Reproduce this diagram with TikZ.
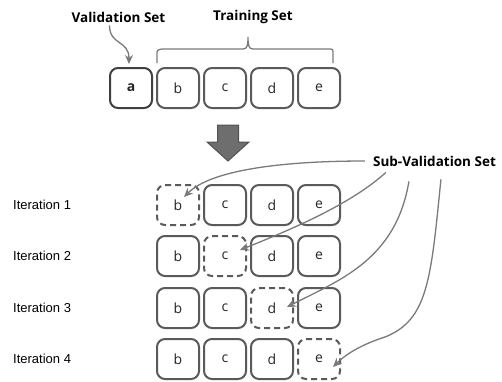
\documentclass[tikz,border=0pt]{standalone}
\usepackage{fontspec}
\setmainfont{Open Sans}
\newfontfamily\arialfont{Liberation Sans}
\usetikzlibrary{arrows.meta,calc}
\definecolor{boxgray}{HTML}{5A5A5A}
\definecolor{linegray}{HTML}{7A7A7A}
\definecolor{arrowfill}{HTML}{6E6E6E}
\definecolor{arrowedge}{HTML}{525252}

\begin{document}
\begin{tikzpicture}[x=1pt, y=-1pt,
  fold/.style={draw=boxgray, line width=2pt, rounded corners=8pt, minimum width=42pt, minimum height=40pt, inner sep=0pt, text=black!85, font=\fontsize{14}{16}\selectfont},
  subfold/.style={fold, dash pattern=on 6pt off 4pt},
  setlabel/.style={inner sep=0pt, font=\bfseries\fontsize{13.5}{16}\selectfont},
  iterlabel/.style={anchor=west, inner sep=0pt, font=\arialfont\fontsize{13}{15}\selectfont},
  pointer/.style={draw=linegray, line width=1.3pt, -{Stealth[length=9pt, width=8pt]}}
]
  \useasboundingbox (0,0) rectangle (502,381);

  % Full data set
  \node[fold, draw=black!75, font=\bfseries\fontsize{14}{16}\selectfont] (a0) at (131,88) {a};
  \foreach \l [count=\i] in {b,c,d,e}
    \node[fold] (\l0) at (131+47*\i, 88) {\l};

  % Labels on top
  \node[setlabel] (val) at (118.5,17) {Validation Set};
  \node[setlabel] (train) at (253,17) {Training Set};

  % Brace over the training folds
  \draw[linegray, line width=1.3pt] (157,63) -- (157,55) .. controls (157,50) .. (162,49) -- (243,49)
    .. controls (247,49) and (248,46) .. (248,37) .. controls (248,46) and (249,49) .. (253,49)
    -- (328,49) .. controls (333,49) .. (333,54) -- (333,63);

  % Validation pointer
  \draw[pointer] ([xshift=-9pt, yshift=-3pt]val.south) .. controls +(0,20) and +(0,-24) .. ([xshift=-2pt, yshift=3pt]a0.north);

  % Big down arrow
  \filldraw[fill=arrowfill, draw=arrowedge, line width=1pt] (217.5,125) -- (238.5,125) -- (238.5,142) -- (249,142)
    -- (228,161) -- (207,142) -- (217.5,142) -- cycle;

  % Iterations
  \foreach \r/\y in {1/205, 2/256, 3/308, 4/359} {
    \node[iterlabel] (it\r) at (13,\y) {Iteration \r};
    \foreach \l [count=\i] in {b,c,d,e} {
      \ifnum\i=\r
        \node[subfold] (\l\r) at (131+47*\i, \y) {\l};
      \else
        \node[fold] (\l\r) at (131+47*\i, \y) {\l};
      \fi
    }
  }

  % Sub-validation pointers
  \node[setlabel] (sub) at (434.5,161) {Sub-Validation Set};
  \draw[pointer] ([xshift=-8pt]sub.west) .. controls +(-83,0) and +(27,-27) .. ([xshift=6pt, yshift=8pt]b1.center);
  \draw[pointer] ([xshift=13pt, yshift=-6pt]sub.south west) .. controls +(-35,32) and +(50,-20) .. ([xshift=15pt, yshift=6pt]c2.center);
  \draw[pointer] ([xshift=36pt, yshift=-15pt]sub.south west) .. controls +(-13,78) and +(53,-27) .. ([xshift=15pt, yshift=1pt]d3.center);
  \draw[pointer] ([xshift=68pt, yshift=-13pt]sub.south west) .. controls +(-10,100) and (428,320) .. (385,337)
    .. controls (360,345) and (345,355) .. ([xshift=14pt, yshift=-8pt]e4.center);
\end{tikzpicture}
\end{document}
